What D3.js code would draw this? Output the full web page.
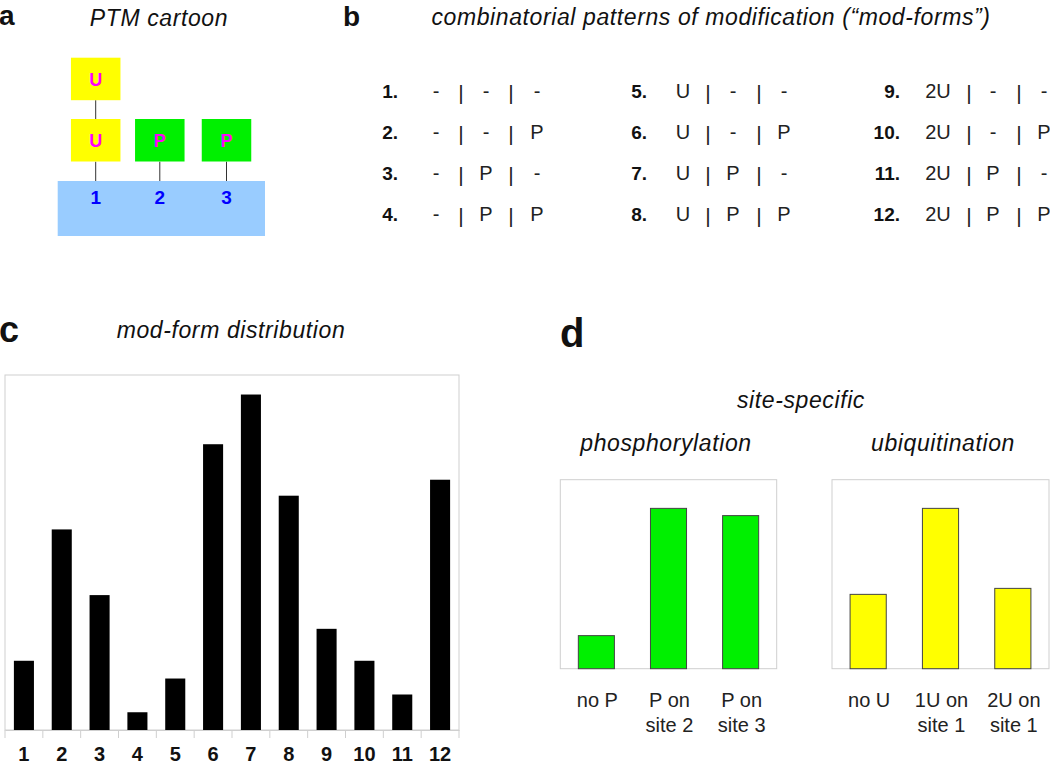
<!DOCTYPE html>
<html>
<head>
<meta charset="utf-8">
<script src="https://cdn.jsdelivr.net/npm/d3@7"></script>
<style>
  html, body { margin: 0; padding: 0; background: #fff; }
  svg { display: block; }
  text { font-family: Arial, "Liberation Sans", sans-serif; }
</style>
</head>
<body>
<svg id="chart" width="1050" height="766"></svg>
<script>
// ---------- DATA ----------
// panel c: mod-form distribution
const modForms = ["1","2","3","4","5","6","7","8","9","10","11","12"];
const modFormValues = [0.039, 0.113, 0.076, 0.010, 0.029, 0.161, 0.189, 0.132, 0.057, 0.039, 0.020, 0.141];

// panel b: combinatorial patterns (site 1 | site 2 | site 3)
const patternNums = ["1.","2.","3.","4.","5.","6.","7.","8.","9.","10.","11.","12."];
const site1Mods = ["-","-","-","-","U","U","U","U","2U","2U","2U","2U"];
const site2Mods = ["-","-","P","P","-","-","P","P","-","-","P","P"];
const site3Mods = ["-","P","-","P","-","P","-","P","-","P","-","P"];

// panel d: site-specific phosphorylation / ubiquitination
const phosCategories = [["no P"], ["P on", "site 2"], ["P on", "site 3"]];
const phosValues = [0.105, 0.509, 0.486];
const ubCategories = [["no U"], ["1U on", "site 1"], ["2U on", "site 1"]];
const ubValues = [0.236, 0.509, 0.255];

// panel a: cartoon
const cartoonSites = ["1", "2", "3"];
const cartoonMods = [["U", "U"], ["P"], ["P"]];

// ---------- DRAW ----------
const svg = d3.select("#chart");
const FONT = 'Arial, "Liberation Sans", sans-serif';

function title(txt, x, y) {
  svg.append("text").attr("x", x).attr("y", y).attr("text-anchor", "middle")
    .attr("font-size", 23).attr("font-style", "italic").attr("letter-spacing", 0.6)
    .attr("fill", "#111").text(txt);
}
function panelLabel(txt, x, y, size) {
  svg.append("text").attr("x", x).attr("y", y).attr("font-size", size)
    .attr("font-weight", "bold").attr("fill", "#111").text(txt);
}

// panel labels
panelLabel("a", -1, 25, 28);
panelLabel("b", 343, 26, 28);
panelLabel("c", -1, 342, 36);
panelLabel("d", 560, 347, 40);

// ----- panel a -----
title("PTM cartoon", 159, 26);
const siteCx = [95.7, 159.8, 226.5];
const boxW = 49.5, boxH = 42.5;
const gA = svg.append("g");
gA.append("rect").attr("x", 57.7).attr("y", 181).attr("width", 207.3).attr("height", 55)
  .attr("fill", "#99ccff");
cartoonSites.forEach((s, i) => {
  const cx = siteCx[i];
  const mods = cartoonMods[i];
  gA.append("line").attr("x1", cx).attr("x2", cx).attr("y1", 161.7).attr("y2", 181)
    .attr("stroke", "#333").attr("stroke-width", 1);
  mods.forEach((m, j) => {
    const top = 119 - j * 61.3;
    if (j > 0) {
      gA.append("line").attr("x1", cx).attr("x2", cx).attr("y1", top + boxH).attr("y2", top + 61.3)
        .attr("stroke", "#333").attr("stroke-width", 1);
    }
    gA.append("rect").attr("x", cx - boxW / 2).attr("y", top).attr("width", boxW).attr("height", boxH)
      .attr("fill", m === "U" ? "#ffff00" : "#00f000");
    gA.append("text").attr("x", cx).attr("y", top + 28).attr("text-anchor", "middle")
      .attr("font-size", 18).attr("font-weight", "bold").attr("fill", "#ff00ff").text(m);
  });
  gA.append("text").attr("x", cx).attr("y", 204).attr("text-anchor", "middle")
    .attr("font-size", 19).attr("font-weight", "bold").attr("fill", "#0000ff").text(s);
});

// ----- panel b -----
title("combinatorial patterns of modification (\u201cmod-forms\u201d)", 711, 25);
const numRight = [398, 647, 900];
const rowBase = [98, 139, 180, 221];
const symOffsets = [[38, 63, 88, 113, 139], [36, 61, 86, 112, 137], [38, 69, 93, 119, 144]];
patternNums.forEach((n, i) => {
  const col = Math.floor(i / 4), row = i % 4;
  const y = rowBase[row], x0 = numRight[col], off = symOffsets[col];
  svg.append("text").attr("x", x0).attr("y", y).attr("text-anchor", "end")
    .attr("font-size", 19).attr("font-weight", "bold").attr("fill", "#111").text(n);
  const syms = [site1Mods[i], "|", site2Mods[i], "|", site3Mods[i]];
  syms.forEach((s, k) => {
    svg.append("text").attr("x", x0 + off[k]).attr("y", y + (s === "|" ? 2 : 0))
      .attr("text-anchor", "middle")
      .attr("font-size", s === "|" ? 21 : 20).attr("fill", "#222").text(s);
  });
});

// ----- panel c -----
title("mod-form distribution", 231, 338);
const cLeft = 5, cRight = 459, cTop = 375, cBase = 730;
const xC = d3.scaleBand().domain(modForms).range([cLeft, cRight]).paddingInner(0.47).paddingOuter(0.235);
const yC = d3.scaleLinear().domain([0, 0.2]).range([cBase, cTop]);
const gC = svg.append("g");
gC.append("rect").attr("x", cLeft).attr("y", cTop).attr("width", cRight - cLeft).attr("height", cBase - cTop)
  .attr("fill", "none").attr("stroke", "#cfcfcf").attr("stroke-width", 1);
gC.selectAll("rect.bar").data(modFormValues).join("rect").attr("class", "bar")
  .attr("x", (d, i) => xC(modForms[i])).attr("width", xC.bandwidth())
  .attr("y", d => yC(d)).attr("height", d => yC(0) - yC(d)).attr("fill", "#000");
const gap = xC.step() - xC.bandwidth();
const edges = modForms.map(m => xC(m) - gap / 2).concat([cRight]);
gC.selectAll("line.tick").data(edges).join("line").attr("class", "tick")
  .attr("x1", d => d).attr("x2", d => d).attr("y1", cBase).attr("y2", cBase + 8)
  .attr("stroke", "#cfcfcf");
const axC = gC.append("g").attr("transform", `translate(0,${cBase})`)
  .call(d3.axisBottom(xC).tickSize(0).tickPadding(18));
axC.select(".domain").attr("stroke", "#cfcfcf");
axC.selectAll("text").attr("font-size", 20).attr("font-weight", "bold").attr("fill", "#111")
  .attr("font-family", FONT).attr("dy", null).attr("y", 31);

// ----- panel d -----
title("site-specific", 801, 408);
title("phosphorylation", 666, 451);
title("ubiquitination", 943, 451);
const dTop = 479.7, dBase = 668.7;
const yD = d3.scaleLinear().domain([0, 0.6]).range([dBase, dTop]);
function smallChart(cats, vals, x0, x1, color) {
  const idx = cats.map((c, i) => i);
  const x = d3.scaleBand().domain(idx).range([x0, x1]).paddingInner(0.5).paddingOuter(0.25);
  const g = svg.append("g");
  g.append("rect").attr("x", x0).attr("y", dTop).attr("width", x1 - x0).attr("height", dBase - dTop)
    .attr("fill", "none").attr("stroke", "#cfcfcf").attr("stroke-width", 1);
  g.selectAll("rect.bar").data(vals).join("rect").attr("class", "bar")
    .attr("x", (d, i) => x(i)).attr("width", x.bandwidth())
    .attr("y", d => yD(d)).attr("height", d => yD(0) - yD(d))
    .attr("fill", color).attr("stroke", "#444").attr("stroke-width", 1);
  cats.forEach((lines, i) => {
    const t = g.append("text").attr("text-anchor", "middle").attr("font-size", 20).attr("fill", "#222");
    lines.forEach((ln, k) => {
      t.append("tspan").attr("x", x(i) + x.bandwidth() / 2 + 1).attr("y", 707 + k * 25).text(ln);
    });
  });
}
smallChart(phosCategories, phosValues, 560.3, 776.7, "#00f000");
smallChart(ubCategories, ubValues, 832, 1049, "#ffff00");
</script>
</body>
</html>
